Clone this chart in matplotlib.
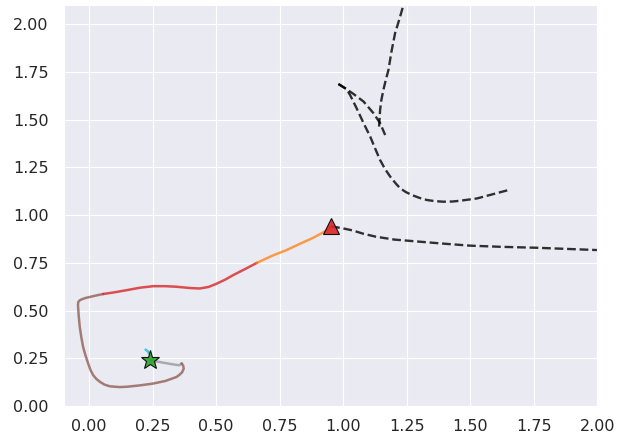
import numpy as np
import matplotlib
matplotlib.use("Agg")
import matplotlib.pyplot as plt
import seaborn as sns

sns.set_style("darkgrid")

# ego trajectory, split into coloured pieces (start -> end)
start_x = [0.222, 0.230, 0.238]
start_y = [0.296, 0.288, 0.272]

gray_x = [0.24, 0.29, 0.33, 0.355, 0.364]
gray_y = [0.24, 0.228, 0.219, 0.214, 0.224]

brown_x = [0.364, 0.370, 0.372, 0.366, 0.356, 0.344, 0.30, 0.25, 0.20, 0.15, 0.12,
           0.082, 0.060, 0.043, 0.028, 0.016, 0.005, -0.004, -0.015, -0.024, -0.031,
           -0.037, -0.041, -0.044, -0.043, -0.038, -0.030, -0.015, 0.004, 0.030, 0.055]
brown_y = [0.224, 0.212, 0.196, 0.178, 0.165, 0.153, 0.132, 0.118, 0.109, 0.102, 0.100,
           0.104, 0.113, 0.127, 0.143, 0.162, 0.190, 0.224, 0.268, 0.311, 0.362,
           0.415, 0.470, 0.529, 0.545, 0.553, 0.559, 0.566, 0.572, 0.580, 0.587]

red_x = [0.055, 0.10, 0.147, 0.20, 0.252, 0.30, 0.344, 0.40, 0.436, 0.47, 0.50,
         0.535, 0.567, 0.62, 0.66]
red_y = [0.587, 0.596, 0.607, 0.620, 0.628, 0.628, 0.625, 0.618, 0.616, 0.624,
         0.640, 0.662, 0.686, 0.722, 0.750]

orange_x = [0.66, 0.72, 0.777, 0.83, 0.88, 0.922, 0.95]
orange_y = [0.750, 0.787, 0.817, 0.850, 0.880, 0.910, 0.935]

start_pt = (0.24, 0.24)
end_pt = (0.952, 0.945)

# predicted paths of the other agents
pred1_x = [0.952, 0.99, 1.036, 1.08, 1.128, 1.20, 1.299, 1.40, 1.50, 1.62, 1.762, 1.88, 2.0, 2.1]
pred1_y = [0.940, 0.933, 0.920, 0.902, 0.887, 0.872, 0.861, 0.850, 0.840, 0.834, 0.829, 0.823, 0.817, 0.813]

pred2_x = [0.981, 1.013, 1.027, 1.053, 1.080, 1.106, 1.125, 1.145, 1.165, 1.185, 1.205,
           1.224, 1.247, 1.270, 1.300, 1.329, 1.360, 1.394, 1.430, 1.460, 1.526, 1.591, 1.65]
pred2_y = [1.686, 1.659, 1.628, 1.558, 1.481, 1.411, 1.350, 1.288, 1.240, 1.201, 1.168,
           1.140, 1.120, 1.105, 1.090, 1.079, 1.073, 1.070, 1.071, 1.075, 1.087, 1.110, 1.131]

pred3_x = [0.981, 1.013, 1.040, 1.080, 1.119, 1.145, 1.165]
pred3_y = [1.686, 1.659, 1.634, 1.594, 1.533, 1.481, 1.419]

pred4_x = [1.141, 1.143, 1.145, 1.150, 1.158, 1.167, 1.178, 1.190, 1.204, 1.222, 1.237, 1.25]
pred4_y = [1.463, 1.505, 1.550, 1.602, 1.655, 1.705, 1.760, 1.857, 1.952, 2.030, 2.100, 2.160]

fig, ax = plt.subplots(figsize=(6.19, 4.42), dpi=100)
fig.subplots_adjust(left=0.103, right=0.965, top=0.989, bottom=0.081)

lw = 1.8
ax.plot(start_x, start_y, color="tab:cyan", lw=lw, alpha=0.8, solid_capstyle="round")
ax.plot(gray_x, gray_y, color="tab:gray", lw=lw, alpha=0.6, solid_capstyle="round")
ax.plot(brown_x, brown_y, color="tab:brown", lw=lw, alpha=0.75, solid_capstyle="round",
        solid_joinstyle="round")
ax.plot(red_x, red_y, color="tab:red", lw=lw, alpha=0.8, solid_capstyle="round")
ax.plot(orange_x, orange_y, color="tab:orange", lw=lw, alpha=0.75, solid_capstyle="round")

for px, py in [(pred1_x, pred1_y), (pred2_x, pred2_y), (pred3_x, pred3_y), (pred4_x, pred4_y)]:
    ax.plot(px, py, color="k", ls="--", lw=1.7, alpha=0.8)

ax.plot(*start_pt, marker="*", ms=14, color="tab:green", mec="k", mew=0.8, alpha=0.9)
ax.plot(*end_pt, marker="^", ms=12, color="tab:red", mec="k", mew=0.8, alpha=0.9)

ax.set_xlim(-0.1, 2.0)
ax.set_ylim(0, 2.1)
ax.set_xticks(np.arange(0, 2.01, 0.25))
ax.set_yticks(np.arange(0, 2.01, 0.25))
ax.tick_params(axis="x", labelsize=11.5, pad=5.5)
ax.tick_params(axis="y", labelsize=11.5, pad=7.5)

fig.savefig("out.png", dpi=100)
